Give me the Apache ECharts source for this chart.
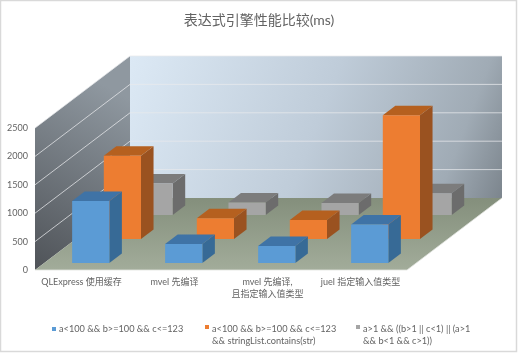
<!DOCTYPE html>
<html>
<head>
<meta charset="utf-8">
<title>表达式引擎性能比较(ms)</title>
<style type="text/css">
    html,body{
        margin:0;
        padding:0;
        background:#fff;
    }
    #chart{
        width:518px;
        height:353px;
    }
</style>
</head>
<body>
<div id="chart"></div>
<script src="https://cdn.jsdelivr.net/npm/echarts@6/dist/echarts.min.js"></script>
<script>
var categories = ['QLExpress 使用缓存', 'mvel 先编译', 'mvel 先编译,\n且指定输入值类型', 'juel 指定输入值类型'];
var yTicks = [0, 500, 1000, 1500, 2000, 2500];
var seriesNames = [
    'a<100 && b>=100 && c<=123',
    'a<100 && b>=100 && c<=123\n&& stringList.contains(str)',
    'a>1 && ((b>1 || c<1) || (a>1\n&& b<1 && c>1))'
];
var blueValues = [1090, 335, 300, 680];
var orangeValues = [1465, 365, 335, 2180];
var grayValues = [555, 220, 210, 385];

(function() {
    var FONT = 'Lato, "Noto Sans CJK SC", sans-serif';
    var TEXT = '#636363';
    // oblique projection of the 3d box: how far the back wall sits from the front plane
    var DEPTH_X = 95, DEPTH_Y = 72;
    var ROW_STEP = 24, ROW_GAP = 7, BAR_DEPTH = 9.5;

    function shift(p, d) {
        return [p[0] + d * DEPTH_X / DEPTH_Y, p[1] - d];
    }

    function poly(points, style) {
        return {type: 'polygon', shape: {points: points}, style: style, silent: true};
    }

    function wallsRender(params, api) {
        var r = params.coordSys;
        var fl = [r.x, r.y + r.height], fr = [r.x + r.width, r.y + r.height];
        var tl = [r.x, r.y];
        var bl = shift(fl, DEPTH_Y), br = shift(fr, DEPTH_Y), btl = shift(tl, DEPTH_Y);
        var btr = [br[0], btl[1]];
        var G = echarts.graphic.LinearGradient;
        var children = [
            poly([btl, btr, br, bl], {
                fill: new G(0, 0, 1, 1, [
                    {offset: 0, color: '#dce9f5'},
                    {offset: 0.5, color: '#bfccd9'},
                    {offset: 0.85, color: '#a0abb5'},
                    {offset: 1, color: '#7c858d'}
                ])
            }),
            poly([tl, btl, bl, fl], {
                fill: new G(0, 1, 1, 0.2, [
                    {offset: 0, color: '#4f5358'},
                    {offset: 1, color: '#8f98a0'}
                ])
            }),
            poly([fl, fr, br, bl], {
                fill: new G(0, 0, 0, 1, [
                    {offset: 0, color: '#848f7c'},
                    {offset: 1, color: '#a2ac9a'}
                ])
            })
        ];
        for (var i = 1; i < yTicks.length; i++) {
            var y = api.coord([0, yTicks[i]])[1];
            var a = [r.x, y], b = shift(a, DEPTH_Y), c = [br[0], b[1]];
            children.push({
                type: 'polyline', silent: true,
                shape: {points: [a, b, c]},
                style: {fill: null, stroke: 'rgba(232,234,236,0.75)', lineWidth: 1}
            });
        }
        children.push({
            type: 'polyline', silent: true,
            shape: {points: [fl, fr, br]},
            style: {fill: null, stroke: 'rgba(225,228,222,0.8)', lineWidth: 1}
        });
        return {type: 'group', children: children};
    }

    function barRender(row, front, top, side) {
        return function(params, api) {
            var base = api.coord([api.value(0), 0]);
            var head = api.coord([api.value(0), api.value(1)]);
            var halfW = api.size([1, 0])[0] * 0.2;
            var lift = ROW_GAP + row * ROW_STEP;
            var b = shift(base, lift), t = shift(head, lift);
            var lb = [b[0] - halfW, b[1]], rb = [b[0] + halfW, b[1]];
            var lt = [t[0] - halfW, t[1]], rt = [t[0] + halfW, t[1]];
            return {
                type: 'group',
                children: [
                    poly([rb, rt, shift(rt, BAR_DEPTH), shift(rb, BAR_DEPTH)], {fill: side}),
                    poly([lt, rt, shift(rt, BAR_DEPTH), shift(lt, BAR_DEPTH)], {fill: top}),
                    poly([lb, lt, rt, rb], {fill: front})
                ]
            };
        };
    }

    function toData(values) {
        return values.map(function(v, i) {
            return [i, v];
        });
    }

    function barSeries(name, values, row, front, top, side, z) {
        return {
            type: 'custom',
            name: name,
            z: z,
            itemStyle: {color: front},
            encode: {x: 0, y: 1},
            renderItem: barRender(row, front, top, side),
            data: toData(values)
        };
    }

    function legendOf(name, left, twoLines) {
        return {
            left: left,
            top: 323,
            padding: 0,
            orient: 'horizontal',
            selectedMode: false,
            data: [name],
            itemWidth: 4,
            itemHeight: twoLines ? 20 : 4,
            // icon box runs down the two lines, the square stays on the first one
            icon: twoLines ? 'path://M0 0H4V4H0Z M0 20H4' : 'rect',
            textStyle: {color: TEXT, fontFamily: FONT, fontSize: 9.2, lineHeight: 12, padding: [0, 0, 0, -2]}
        };
    }

    var myChart = echarts.init(document.getElementById('chart'), null, {renderer: 'canvas'});
    myChart.setOption({
        animation: false,
        backgroundColor: '#fff',
        title: {
            text: '表达式引擎性能比较(ms)',
            left: 'center',
            top: 13,
            padding: 0,
            textStyle: {color: TEXT, fontFamily: FONT, fontSize: 14, fontWeight: 'normal'}
        },
        graphic: [{
            type: 'rect',
            silent: true,
            z: -1,
            shape: {x: 0.5, y: 0.5, width: 516, height: 351},
            style: {fill: null, stroke: '#d9d9d9', lineWidth: 1.5}
        }],
        legend: [
            legendOf(seriesNames[0], 52, false),
            legendOf(seriesNames[1], 205, true),
            legendOf(seriesNames[2], 356, true)
        ],
        grid: {left: 35, top: 128, width: 372, height: 142},
        xAxis: {
            type: 'category',
            data: categories,
            axisLine: {show: false},
            axisTick: {show: false},
            splitLine: {show: false},
            axisLabel: {
                interval: 0,
                margin: 6,
                color: TEXT,
                fontFamily: FONT,
                fontSize: 9,
                lineHeight: 12
            }
        },
        yAxis: {
            type: 'value',
            min: 0,
            max: 2500,
            interval: 500,
            axisLine: {show: false},
            axisTick: {show: false},
            splitLine: {show: false},
            axisLabel: {
                margin: 7,
                color: TEXT,
                fontFamily: FONT,
                fontSize: 9,
                formatter: function(v) {
                    return String(v);
                }
            }
        },
        series: [
            {
                type: 'custom',
                z: 1,
                silent: true,
                renderItem: wallsRender,
                data: [[0, 0]],
                encode: {x: 0, y: 1}
            },
            barSeries(seriesNames[0], blueValues, 0, '#5b9bd5', '#3f73a6', '#376a96', 4),
            barSeries(seriesNames[1], orangeValues, 1, '#ed7d31', '#b5601f', '#9a5220', 3),
            barSeries(seriesNames[2], grayValues, 2, '#a5a5a5', '#7c7c7c', '#6c6c6c', 2)
        ]
    });
})();
</script>
</body>
</html>
